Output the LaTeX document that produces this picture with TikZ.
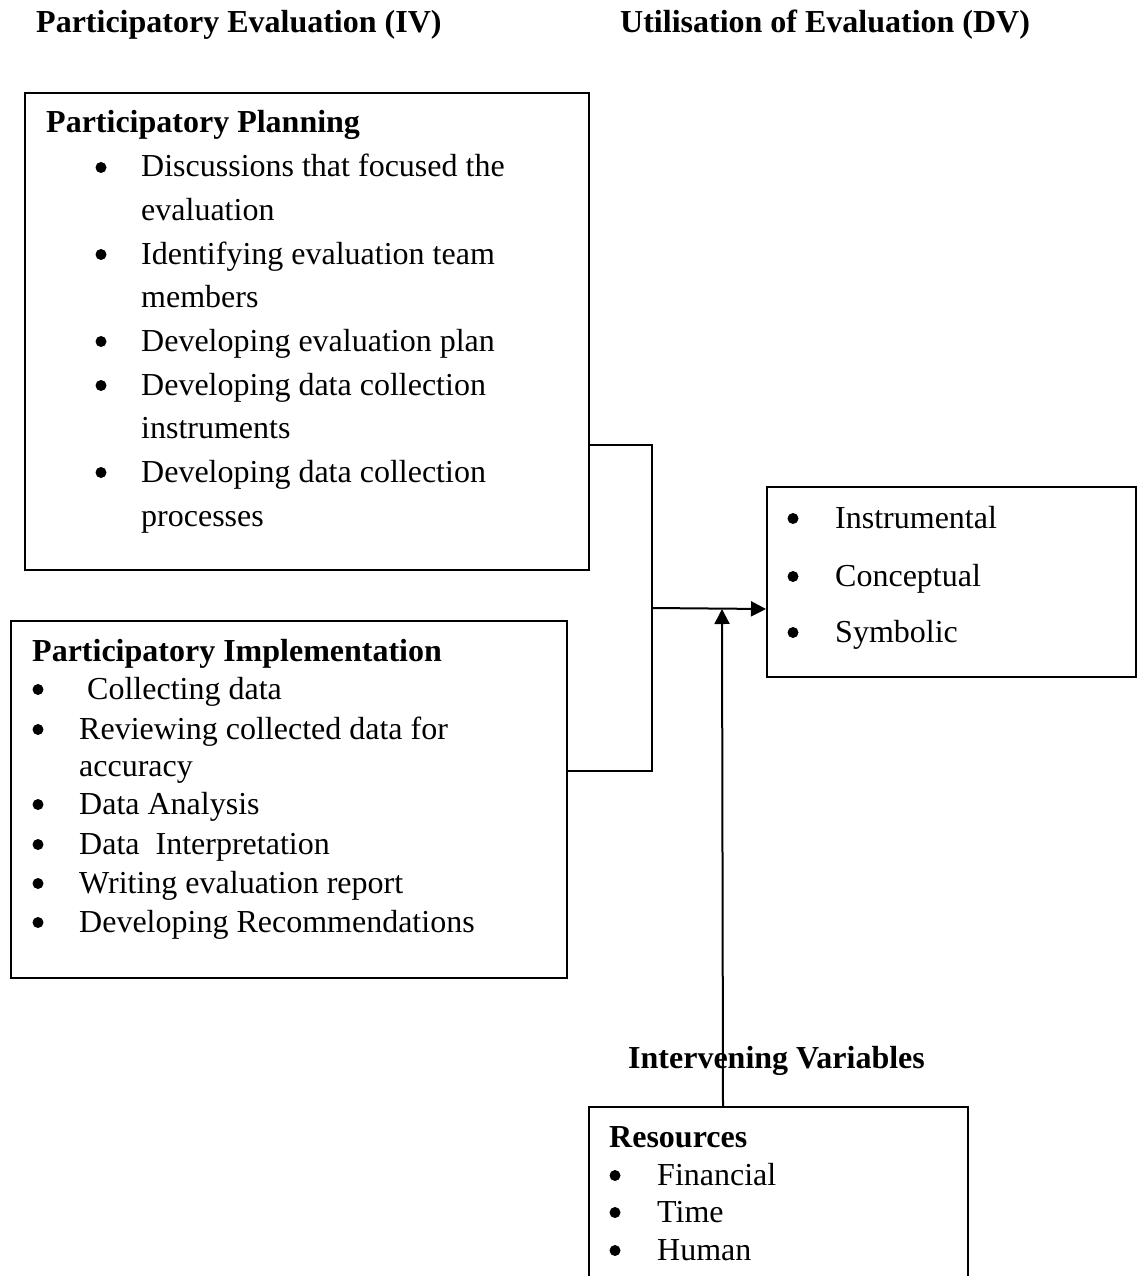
\documentclass[tikz,border=0pt]{standalone}
\usepackage{fontspec}
\setmainfont{Liberation Serif}
\usetikzlibrary{arrows.meta}
\newcommand\bodyfont{\fontsize{32}{38}\selectfont}
\newcommand\headfont{\fontsize{32}{38}\selectfont\bfseries}
\tikzset{
  txt/.style={anchor=base west, inner sep=0pt, font=\bodyfont},
  hd/.style={anchor=base west, inner sep=0pt, font=\headfont},
  bul/.style={circle, fill, inner sep=0pt, minimum size=11pt, yshift=9.5pt},
  frame/.style={draw, line width=2pt, anchor=north west, inner sep=0pt},
  conn/.style={line width=2pt},
  arr/.style={line width=2pt, -{Triangle[length=15pt,width=15pt]}}
}
\begin{document}
\begin{tikzpicture}[x=1pt,y=-1pt]
\path[use as bounding box] (0,0) rectangle (1137,1276);
\clip (0,0) rectangle (1137,1276);
% headings
\node[hd] (tiv) at (36,33) {Participatory Evaluation (IV)};
\node[hd] (tdv) at (620,33) {Utilisation of Evaluation (DV)};
% boxes
\node[frame, minimum width=564, minimum height=477] (plan) at (24,92) {};
\node[frame, minimum width=556, minimum height=357] (impl) at (10,620) {};
\node[frame, minimum width=369, minimum height=190] (dv) at (766,486) {};
\node[frame, minimum width=379, minimum height=220] (res) at (588,1106) {};
% planning
\node[hd] (ph) at (46,133) {Participatory Planning};
\foreach \i/\y in {1/177,2/264,3/351,4/395,5/482}{
  \node[bul] (pb\i) at (101,\y) {};
}
\foreach \i/\y/\t in {1/177/{Discussions that focused the},2/220/{evaluation},3/264/{Identifying evaluation team},4/307/{members},5/351/{Developing evaluation plan},6/395/{Developing data collection},7/438/{instruments},8/482/{Developing data collection},9/526/{processes}}{
  \node[txt] (pt\i) at (141,\y) {\t};
}
% implementation
\node[hd] (ih) at (32,661) {Participatory Implementation};
\foreach \i/\y in {1/699,2/739,3/814,4/854,5/893,6/932}{
  \node[bul] (ib\i) at (38,\y) {};
}
\node[txt] (it1) at (87,699) {Collecting data};
\foreach \i/\y/\t in {2/739/{Reviewing collected data for},3/776/{accuracy},4/814/{Data Analysis},5/854/{Data\ \ Interpretation},6/893/{Writing evaluation report},7/932/{Developing Recommendations}}{
  \node[txt] (it\i) at (79,\y) {\t};
}
% DV
\foreach \i/\y/\t in {1/528/Instrumental,2/586/Conceptual,3/642/Symbolic}{
  \node[bul] (db\i) at (793,\y) {};
  \node[txt] (dt\i) at (835,\y) {\t};
}
% intervening
\node[hd] (iv) at (628,1068) {Intervening Variables};
\node[hd] (rh) at (609,1147) {Resources};
\foreach \i/\y/\t in {1/1185/Financial,2/1222/Time,3/1260/Human}{
  \node[bul] (rb\i) at (615,\y) {};
  \node[txt] (rt\i) at (657,\y) {\t};
}
% connectors
\coordinate (j) at (652,608);
\coordinate (jv) at (722,609);
\draw[conn] ([yshift=126]plan.south east) -| (j) |- ([yshift=28.5]impl.east);
\draw[arr] (j) -- ([yshift=-27]dv.west);
\draw[arr] ([xshift=-55.5]res.north) -- (jv);
\end{tikzpicture}
\end{document}
